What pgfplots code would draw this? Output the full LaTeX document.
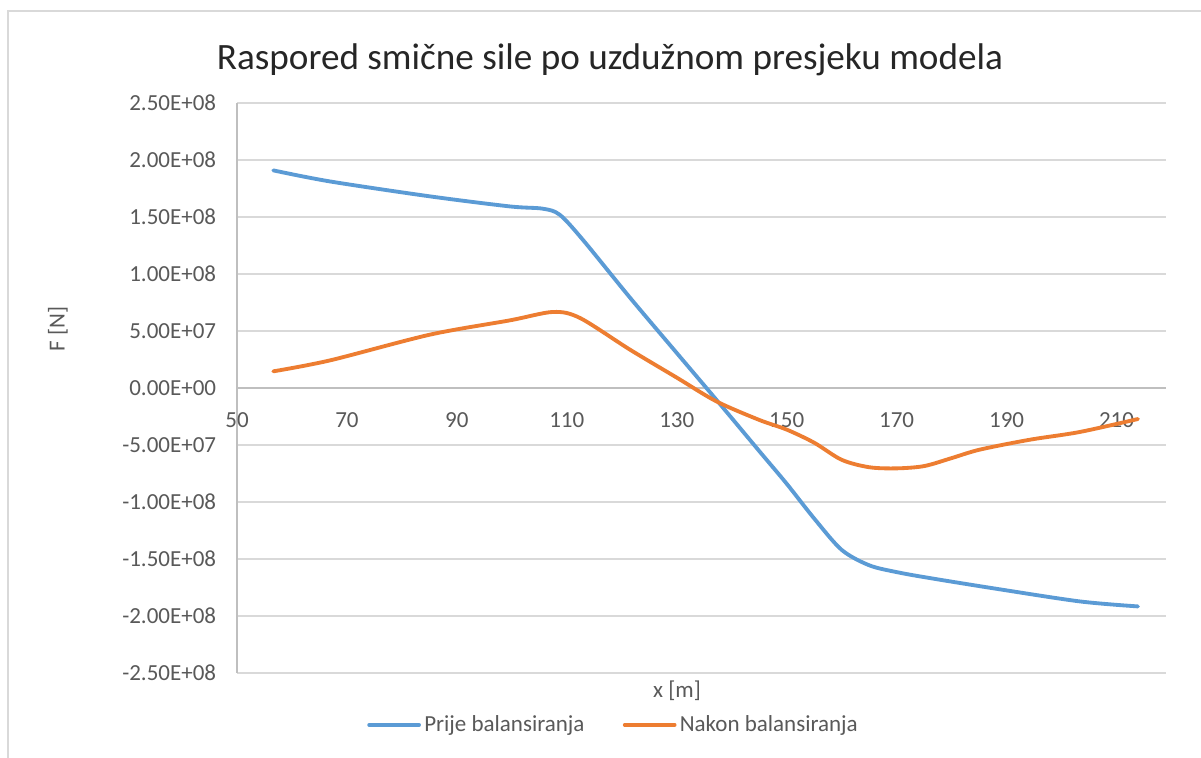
\documentclass[border=0pt]{standalone}
\usepackage{pgfplots}
\pgfplotsset{compat=1.18}
\usepackage{fontspec}
\setmainfont{Carlito}
\definecolor{cblue}{HTML}{5B9BD5}
\definecolor{corange}{HTML}{ED7D31}
\definecolor{cgrid}{HTML}{D9D9D9}
\definecolor{caxis}{HTML}{BFBFBF}
\definecolor{ctext}{HTML}{595959}
\begin{document}
\begin{tikzpicture}
\useasboundingbox (0,0) rectangle (720.6pt,454.8pt);
\fill[white] (0,0) rectangle (720.6pt,454.8pt);
\draw[cgrid,line width=1.2pt] (4.8pt,0pt) -- (4.8pt,448.2pt) -- (720.6pt,448.2pt);
\begin{axis}[
  scale only axis,
  width=557.4pt, height=342pt,
  at={(142.2pt,51pt)}, anchor=south west,
  xmin=50, xmax=219, ymin=-2.5e8, ymax=2.5e8,
  axis x line=middle, axis y line=left,
  hide obscured x ticks=false, hide obscured y ticks=false,
  axis line style={caxis,line width=1.2pt,-},
  major tick length=0pt,
  xtick={50,70,90,110,130,150,170,190,210},
  xticklabels={50,70,90,110,130,150,170,190,210},
  ytick={-2.5e8,-2e8,-1.5e8,-1e8,-5e7,0,5e7,1e8,1.5e8,2e8,2.5e8},
  yticklabels={-2.50E+08,-2.00E+08,-1.50E+08,-1.00E+08,-5.00E+07,0.00E+00,5.00E+07,1.00E+08,1.50E+08,2.00E+08,2.50E+08},
  scaled y ticks=false,
  ymajorgrids,
  grid style={cgrid,line width=1.2pt},
  tick label style={font=\fontsize{13.8pt}{15pt}\selectfont, text=ctext},
  xticklabel style={yshift=-11pt},
  yticklabel style={xshift=-9pt},
  legend columns=2,
  legend style={at={(0.406,-0.091)}, anchor=center, draw=none, fill=none,
    font=\fontsize{13.8pt}{15pt}\selectfont, text=ctext,
    /tikz/every even column/.append style={column sep=21pt}},
  legend image code/.code={\draw[#1,line width=2.2pt] (0pt,0pt) -- (30pt,0pt);},
  legend cell align=left,
]
\addplot[cblue, line width=2.3pt, smooth, line join=round, line cap=round] coordinates {
(56.6,1.909e8) (66.9,1.812e8) (85.1,1.681e8) (99.6,1.593e8) (105.6,1.573e8)
(108.7,1.520e8) (112.9,1.301e8) (121.5,0.792e8) (130,0.307e8) (137.2,-0.103e8)
(145,-0.553e8) (150,-0.84e8) (155,-1.145e8) (160,-1.42e8) (165,-1.555e8)
(170,-1.615e8) (176,-1.667e8)
(188.1,-1.761e8) (203.3,-1.872e8) (213.9,-1.916e8)
};
\addlegendentry{Prije balansiranja}
\addplot[corange, line width=2.3pt, smooth, line join=round, line cap=round] coordinates {
(56.6,0.146e8) (66.9,0.242e8) (85.1,0.468e8) (99.6,0.593e8) (107.5,0.667e8)
(112.4,0.614e8) (121.5,0.336e8) (130,0.091e8) (137.2,-0.117e8) (145,-0.28e8)
(150,-0.365e8) (155,-0.48e8) (160,-0.63e8) (165,-0.695e8) (170,-0.705e8)
(175,-0.685e8) (180,-0.615e8) (185.1,-0.541e8) (194.2,-0.454e8) (203.3,-0.386e8)
(213.9,-0.272e8)
};
\addlegendentry{Nakon balansiranja}
\end{axis}
\node[font=\fontsize{22.3pt}{26pt}\selectfont, text=black!85] at (366pt,418.8pt) {Raspored smične sile po uzdužnom presjeku modela};
\node[font=\fontsize{13.8pt}{15pt}\selectfont, text=ctext, rotate=90] at (34.8pt,257.4pt) {F [N]};
\node[font=\fontsize{13.8pt}{15pt}\selectfont, text=ctext] at (406.2pt,40.2pt) {x [m]};
\end{tikzpicture}
\end{document}
